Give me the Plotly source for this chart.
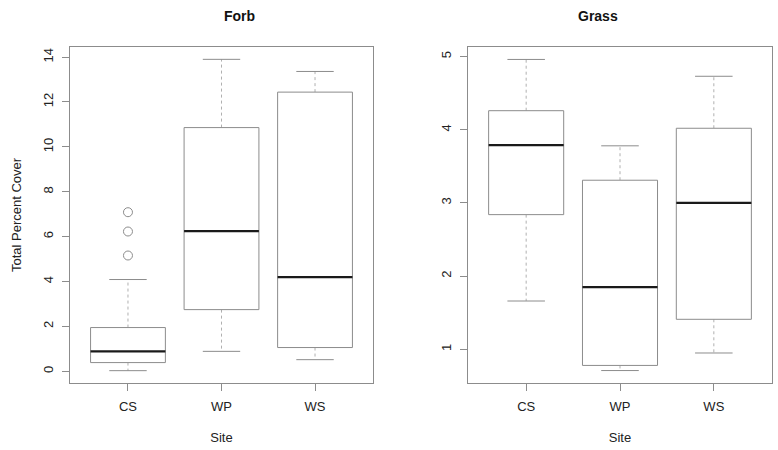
import plotly.graph_objects as go

sites = ["CS", "WP", "WS"]
positions = [1, 2, 3]

# Forb stats
forb_low = [0.03, 0.89, 0.52]
forb_q1 = [0.39, 2.75, 1.06]
forb_med = [0.89, 6.25, 4.20]
forb_q3 = [1.95, 10.86, 12.44]
forb_high = [4.09, 13.90, 13.36]
forb_out_site = [1, 1, 1]
forb_out_val = [5.16, 6.23, 7.09]

# Grass stats
grass_low = [1.66, 0.71, 0.95]
grass_q1 = [2.84, 0.78, 1.41]
grass_med = [3.79, 1.85, 3.00]
grass_q3 = [4.26, 3.31, 4.02]
grass_high = [4.96, 3.78, 4.73]

BOXW = 0.4   # half box width
CAPW = 0.2   # half cap width
BOXCOL = "#8c8c8c"
WHCOL = "#b0b0b0"
MEDCOL = "#1a1a1a"
TXT = "#222222"
FONT = "Liberation Sans, Arial, sans-serif"

fig = go.Figure()


def add_boxes(low, q1, med, q3, high, xa, ya):
    for p, lo, a, m, b, hi in zip(positions, low, q1, med, q3, high):
        # whiskers (dotted)
        fig.add_trace(go.Scatter(x=[p, p, None, p, p], y=[b, hi, None, a, lo], mode="lines",
                                 line=dict(color=WHCOL, width=1, dash="dot"),
                                 xaxis=xa, yaxis=ya, showlegend=False, hoverinfo="skip"))
        # caps
        fig.add_trace(go.Scatter(x=[p - CAPW, p + CAPW, None, p - CAPW, p + CAPW],
                                 y=[hi, hi, None, lo, lo], mode="lines",
                                 line=dict(color=BOXCOL, width=1),
                                 xaxis=xa, yaxis=ya, showlegend=False, hoverinfo="skip"))
        # box
        fig.add_trace(go.Scatter(x=[p - BOXW, p + BOXW, p + BOXW, p - BOXW, p - BOXW],
                                 y=[a, a, b, b, a], mode="lines", fill="toself",
                                 fillcolor="white",
                                 line=dict(color=BOXCOL, width=1),
                                 xaxis=xa, yaxis=ya, showlegend=False, hoverinfo="skip"))
        # median
        fig.add_trace(go.Scatter(x=[p - BOXW, p + BOXW], y=[m, m], mode="lines",
                                 line=dict(color=MEDCOL, width=2.2),
                                 xaxis=xa, yaxis=ya, showlegend=False, hoverinfo="skip"))


add_boxes(forb_low, forb_q1, forb_med, forb_q3, forb_high, "x", "y")
fig.add_trace(go.Scatter(x=forb_out_site, y=forb_out_val, mode="markers",
                         marker=dict(symbol="circle-open", size=9, color=BOXCOL, line=dict(width=1)),
                         xaxis="x", yaxis="y", showlegend=False, hoverinfo="skip"))
add_boxes(grass_low, grass_q1, grass_med, grass_q3, grass_high, "x2", "y2")

axis_common = dict(showline=True, linecolor=BOXCOL, linewidth=1, mirror=True,
                   showgrid=False, zeroline=False, ticks="outside", ticklen=7,
                   tickcolor=BOXCOL, tickfont=dict(size=13, color=TXT, family=FONT))
xaxis_extra = dict(ticklabelstandoff=4)
yaxis_extra = dict(ticklabelstandoff=4)

yb = [1 - 383 / 450, 1 - 47 / 450]
fig.update_layout(
    width=778, height=450,
    margin=dict(l=0, r=0, t=0, b=0),
    paper_bgcolor="white", plot_bgcolor="white",
    font=dict(family=FONT, color=TXT),
    xaxis=dict(domain=[70 / 778, 373 / 778], range=[0.38, 3.62], tickvals=positions,
               ticktext=sites, anchor="y",
               title=dict(text="Site", font=dict(size=13, color=TXT), standoff=20),
               **axis_common, **xaxis_extra),
    yaxis=dict(domain=yb, range=[-0.52, 14.45], tickvals=[0, 2, 4, 6, 8, 10, 12, 14],
               tickangle=-90, anchor="x",
               title=dict(text="Total Percent Cover", font=dict(size=13, color=TXT), standoff=16),
               **axis_common, **yaxis_extra),
    xaxis2=dict(domain=[468 / 778, 772 / 778], range=[0.38, 3.62], tickvals=positions,
                ticktext=sites, anchor="y2",
                title=dict(text="Site", font=dict(size=13, color=TXT), standoff=20),
                **axis_common, **xaxis_extra),
    yaxis2=dict(domain=yb, range=[0.54, 5.13], tickvals=[1, 2, 3, 4, 5],
                tickangle=-90, anchor="x2", **axis_common, **yaxis_extra),
    annotations=[
        dict(text="<b>Forb</b>", x=(70 + 373) / 2 / 778, y=1 - 16 / 450, xref="paper", yref="paper",
             showarrow=False, font=dict(size=14, color="#111111", family=FONT), yanchor="middle"),
        dict(text="<b>Grass</b>", x=(468 + 772) / 2 / 778, y=1 - 16 / 450, xref="paper", yref="paper",
             showarrow=False, font=dict(size=14, color="#111111", family=FONT), yanchor="middle"),
    ],
)

fig.write_html("out.html")
